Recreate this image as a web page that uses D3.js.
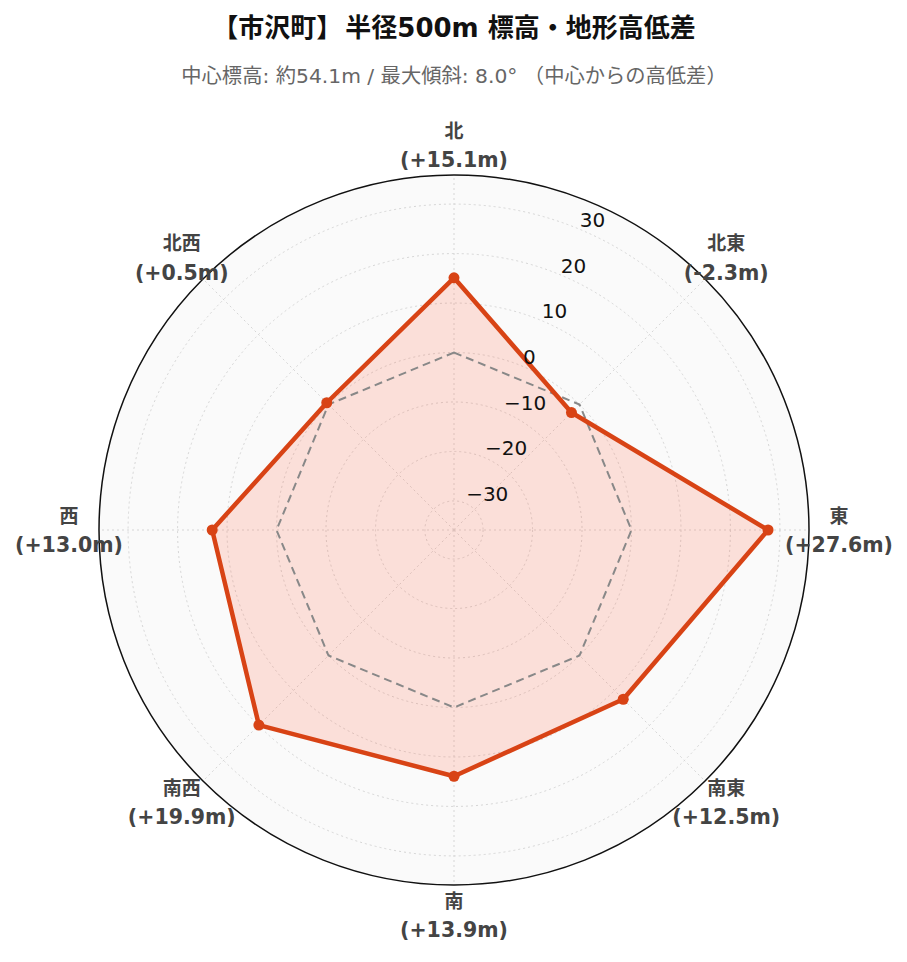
<!DOCTYPE html>
<html><head><meta charset="utf-8">
<script src="https://cdn.jsdelivr.net/npm/d3@7"></script>
<style>
html,body{margin:0;padding:0;background:#fff;}
text{font-family:"DejaVu Sans","Noto Sans CJK JP",sans-serif;}
</style></head>
<body><svg id="chart" width="907" height="962"></svg>
<script>
const directions = ["北","北東","東","南東","南","南西","西","北西"];
const elevDiff = [15.1, -2.3, 27.6, 12.5, 13.9, 19.9, 13.0, 0.5];
const baseline = [0, 0, 0, 0, 0, 0, 0, 0];
const radialTicks = [-30, -20, -10, 0, 10, 20, 30];
const radialRange = [-35.88, 35.88];
const titleParts = ["【市沢町】", "半径500m 標高・地形高低差"];
const subtitleText = "中心標高: 約54.1m / 最大傾斜: 8.0° （中心からの高低差）";

const W = 907, H = 962;
const cx = 454, cy = 530, R = 355;
const svg = d3.select("#chart");

const t = svg.append("text").attr("x", cx).attr("y", 37).attr("text-anchor","middle")
  .attr("font-size", 26).attr("font-weight","bold").attr("fill","#111");
t.append("tspan").text(titleParts[0]);
t.append("tspan").attr("dx", 3).text(titleParts[1]);
svg.append("text").attr("x", cx).attr("y", 83).attr("text-anchor","middle")
  .attr("font-size", 20.3).attr("fill","#666").text(subtitleText);

const r = d3.scaleLinear().domain(radialRange).range([0, R]);
const ang = d3.scaleLinear().domain([0, directions.length]).range([0, 2*Math.PI]);

const g = svg.append("g").attr("transform", `translate(${cx},${cy})`);

// background
g.append("circle").attr("r", R).attr("fill", "#fafafa");

// grid circles
g.selectAll(".gc").data(radialTicks).enter().append("circle")
  .attr("r", d => r(d)).attr("fill","none").attr("stroke","#d6d6d6")
  .attr("stroke-width",1).attr("stroke-dasharray","2,3");
// radial lines
g.selectAll(".gl").data(directions).enter().append("line")
  .attr("x1",0).attr("y1",0)
  .attr("x2",(d,i)=>R*Math.sin(ang(i))).attr("y2",(d,i)=>-R*Math.cos(ang(i)))
  .attr("stroke","#d6d6d6").attr("stroke-width",1).attr("stroke-dasharray","2,3");

const radial = d3.lineRadial().angle((d,i)=>ang(i)).radius(d=>r(d)).curve(d3.curveLinearClosed);

// data fill
g.append("path").attr("d", radial(elevDiff))
  .attr("fill","rgba(255,87,51,0.17)").attr("stroke","none");

// zero reference
g.append("path").attr("d", radial(baseline)).attr("fill","none")
  .attr("stroke","#888").attr("stroke-width",2).attr("stroke-dasharray","8,5");

// data line
g.append("path").attr("d", radial(elevDiff))
  .attr("fill","none").attr("stroke","#d84315").attr("stroke-width",4.5)
  .attr("stroke-linejoin","round");
g.selectAll(".pt").data(elevDiff).enter().append("circle")
  .attr("cx",(d,i)=>r(d)*Math.sin(ang(i))).attr("cy",(d,i)=>-r(d)*Math.cos(ang(i)))
  .attr("r",5.5).attr("fill","#d84315");

// outer circle
g.append("circle").attr("r", R).attr("fill","none").attr("stroke","#111").attr("stroke-width",1.5);

// radial tick labels along 22.5°
const tickAng = Math.PI/8;
g.selectAll(".rt").data(radialTicks).enter().append("text")
  .attr("x", d => r(d)*Math.sin(tickAng) + 1)
  .attr("y", d => -r(d)*Math.cos(tickAng) - 9)
  .attr("dominant-baseline","central").attr("font-size",20).attr("fill","#111")
  .text(d => d < 0 ? "\u2212" + Math.abs(d) : String(d));

// angular labels
const LR = 385;
const fmt = v => "(" + (v >= 0 ? "+" : "") + v.toFixed(1) + "m)";
const al = g.selectAll(".al").data(directions).enter().append("g")
  .attr("transform",(d,i)=>`translate(${LR*Math.sin(ang(i))},${-LR*Math.cos(ang(i))})`);
al.append("text").attr("y",-14.5).attr("text-anchor","middle").attr("dominant-baseline","central")
  .attr("font-size",19).attr("font-weight","bold").attr("fill","#444").text(d=>d);
al.append("text").attr("y",15).attr("text-anchor","middle").attr("dominant-baseline","central")
  .attr("font-size",20.5).attr("font-weight","bold").attr("fill","#444").text((d,i)=>fmt(elevDiff[i]));
</script></body></html>
